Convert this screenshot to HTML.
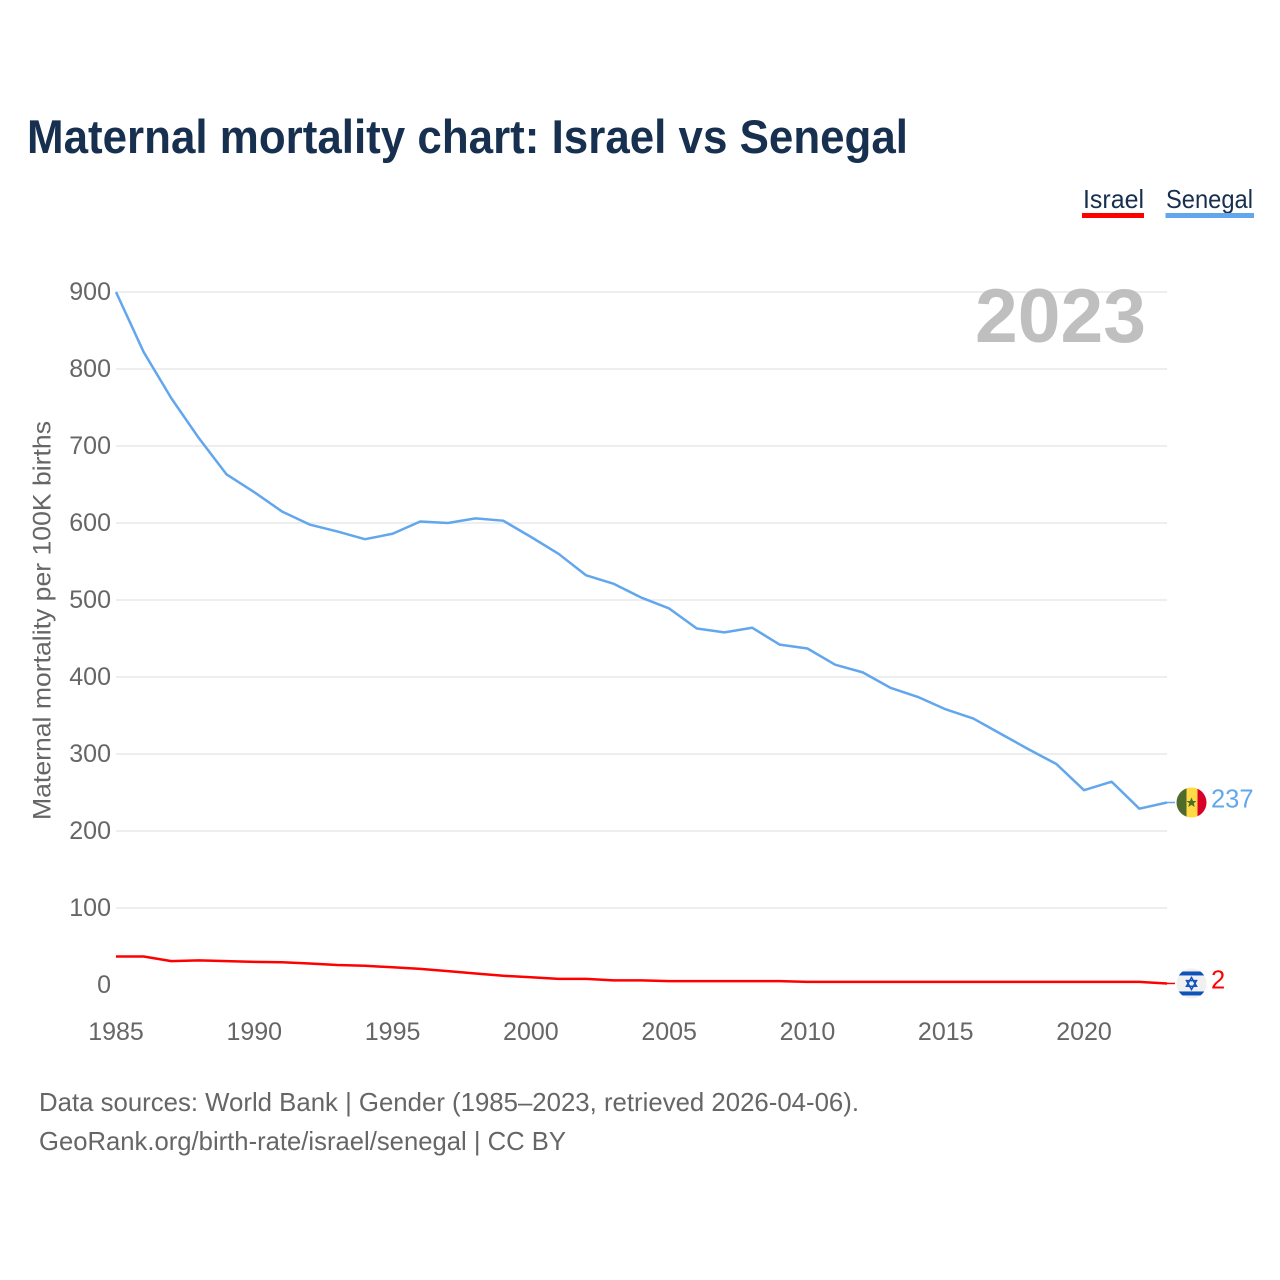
<!DOCTYPE html>
<html lang="en">
<head>
<meta charset="utf-8">
<title>Maternal mortality chart: Israel vs Senegal</title>
<style>
html,body{margin:0;padding:0;background:#fff;width:1280px;height:1280px;overflow:hidden}
svg{display:block;font-family:"Liberation Sans",sans-serif}
</style>
</head>
<body>
<svg id="chart" xmlns="http://www.w3.org/2000/svg" width="1280" height="1280" viewBox="0 0 1280 1280">
  <defs>
    <clipPath id="flag-clip"><circle cx="0" cy="0" r="15"></circle></clipPath>
  </defs>
  <rect x="0" y="0" width="1280" height="1280" fill="#ffffff"></rect>
  <text x="27" y="153" font-size="47" font-weight="700" fill="#17304f" textLength="881" lengthAdjust="spacingAndGlyphs">Maternal mortality chart: Israel vs Senegal</text>

  <g>
    <g>
      <text x="1083" y="208" font-size="26" fill="#17304f" textLength="61" lengthAdjust="spacingAndGlyphs">Israel</text>
      <rect x="1082" y="213" width="62" height="5" fill="#ff0000"></rect>
    </g>
    <g>
      <text x="1166" y="208" font-size="26" fill="#17304f" textLength="87" lengthAdjust="spacingAndGlyphs">Senegal</text>
      <rect x="1165.5" y="213" width="88.5" height="5" fill="#62a6ee"></rect>
    </g>
  </g>

  <g id="grid"></g>
  <text x="975" y="342" font-size="76" font-weight="700" fill="#bfbfbf" textLength="171" lengthAdjust="spacingAndGlyphs">2023</text>
  <g id="y-ticks"></g>
  <g id="x-ticks"></g>
  <text transform="translate(50.5,820) rotate(-90)" x="0" y="0" font-size="25" fill="#666666" textLength="399" lengthAdjust="spacingAndGlyphs">Maternal mortality per 100K births</text>
  <g id="series"></g>

  <g id="flag-senegal">
    <g clip-path="url(#flag-clip)">
      <rect x="-15" y="-15" width="10" height="30" fill="#4f6b2b"></rect>
      <rect x="-5" y="-15" width="11" height="30" fill="#ffda44"></rect>
      <rect x="6" y="-15" width="9" height="30" fill="#d80027"></rect>
      <polygon points="0,-5 1.5,-1.5 5,-1.5 2.3,0.8 3.2,4.5 0,2.4 -3.2,4.5 -2.3,0.8 -5,-1.5 -1.5,-1.5" fill="#4f6b2b"></polygon>
    </g>
  </g>
  <g id="flag-israel">
    <g clip-path="url(#flag-clip)">
      <rect x="-15" y="-15" width="30" height="30" fill="#f0f0f0"></rect>
      <rect x="-15" y="-12" width="30" height="4" fill="#0f52ba"></rect>
      <rect x="-15" y="8" width="30" height="4" fill="#0f52ba"></rect>
      <polygon points="0,-6 5,2.8 -5,2.8" fill="none" stroke="#0f52ba" stroke-width="1.5"></polygon>
      <polygon points="0,6 5,-2.8 -5,-2.8" fill="none" stroke="#0f52ba" stroke-width="1.5"></polygon>
    </g>
  </g>
  <g id="end-labels"></g>

  <text x="39" y="1111" font-size="26" fill="#666666" textLength="820" lengthAdjust="spacingAndGlyphs">Data sources: World Bank | Gender (1985–2023, retrieved 2026-04-06).</text>
  <text x="39" y="1150" font-size="26" fill="#666666" textLength="527" lengthAdjust="spacingAndGlyphs">GeoRank.org/birth-rate/israel/senegal | CC BY</text>
</svg>
<script>
const years = [1985,1986,1987,1988,1989,1990,1991,1992,1993,1994,1995,1996,1997,1998,1999,2000,2001,2002,2003,2004,2005,2006,2007,2008,2009,2010,2011,2012,2013,2014,2015,2016,2017,2018,2019,2020,2021,2022,2023];
const senegal = [900,822,762,710,663,640,615,598,589,579,586,602,600,606,603,582,560,532,521,503,489,463,458,464,442,437,416,406,386,374,358,346,326,306,287,253,264,229,237];
const israel = [37,37,31,32,31,30,29.5,28,26,25,23,21,18,15,12,10,8,8,6,6,5,5,5,5,5,4,4,4,4,4,4,4,4,4,4,4,4,4,2];
const yTickValues = [0,100,200,300,400,500,600,700,800,900];
const xTickValues = [1985,1990,1995,2000,2005,2010,2015,2020];

const NS = 'http://www.w3.org/2000/svg';
const plot = {left:116, right:1167, zero:985, top:292};
function xScale(year){ return plot.left + (year - 1985) * (plot.right - plot.left) / (2023 - 1985); }
function yScale(value){ return plot.zero - value * (plot.zero - plot.top) / 900; }
function make(tag, attrs, parent){
  const el = document.createElementNS(NS, tag);
  for (const k in attrs) el.setAttribute(k, attrs[k]);
  parent.appendChild(el);
  return el;
}

const grid = document.getElementById('grid');
const yTicks = document.getElementById('y-ticks');
yTickValues.forEach(function(v){
  const y = yScale(v);
  if (v !== 0) {
    const line = make('line', {x1:plot.left, x2:plot.right, y1:y, y2:y, stroke:'#eeeeee', 'stroke-width':2}, grid);
    
    
  }
  const label = make('text', {x:111, y:y + 8, 'text-anchor':'end', 'font-size':25, fill:'#666666'}, yTicks);
  label.textContent = String(v);
  
  
});

const xTicks = document.getElementById('x-ticks');
xTickValues.forEach(function(v){
  const label = make('text', {x:xScale(v), y:1040, 'text-anchor':'middle', 'font-size':25, fill:'#666666'}, xTicks);
  label.textContent = String(v);
  
  
});

function pathFor(values){
  return values.map(function(v, i){
    return (i ? 'L' : 'M') + xScale(years[i]).toFixed(2) + ' ' + yScale(v).toFixed(2);
  }).join(' ');
}
const seriesGroup = document.getElementById('series');
const endLabels = document.getElementById('end-labels');
function drawSeries(name, values, color, flagId){
  const last = values[values.length - 1];
  const yEnd = yScale(last);
  const path = make('path', {d:pathFor(values), fill:'none', stroke:color, 'stroke-width':2.5, 'stroke-linejoin':'round'}, seriesGroup);
  
  
  const leader = make('line', {x1:plot.right, x2:plot.right + 8, y1:yEnd, y2:yEnd, stroke:color, 'stroke-width':1.5}, seriesGroup);
  
  
  document.getElementById(flagId).setAttribute('transform', 'translate(1191.5,' + yEnd + ')');
  const label = make('text', {x:1211, y:yEnd + 5, 'font-size':25.5, fill:color}, endLabels);
  label.textContent = String(last);
  
  
}
drawSeries('senegal', senegal, '#62a6ee', 'flag-senegal');
drawSeries('israel', israel, '#ff0000', 'flag-israel');
</script>
</body>
</html>
